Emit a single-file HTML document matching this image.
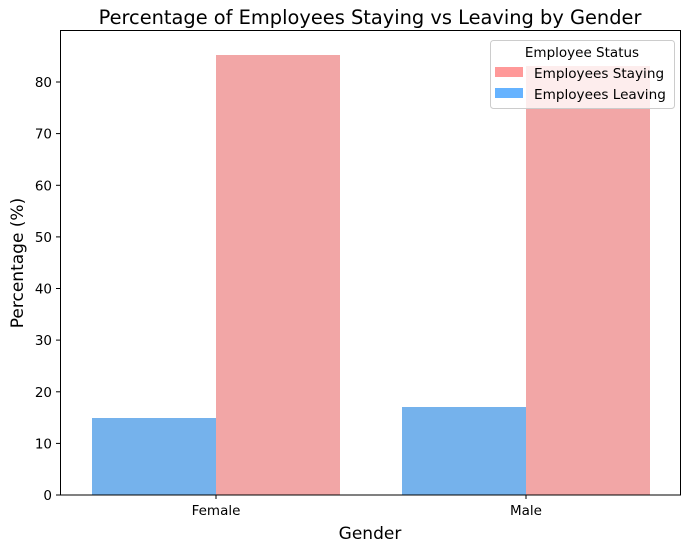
<!DOCTYPE html>
<html><head><style>body{margin:0;background:#fff}</style></head><body>
<svg width="690" height="552" xmlns="http://www.w3.org/2000/svg" font-family="DejaVu Sans, Liberation Sans, sans-serif">
<rect width="690" height="552" fill="#fff"/>
<rect x="92" y="418" width="124" height="77" fill="#75b2ec"/>
<rect x="216" y="55" width="124" height="440" fill="#f2a6a6"/>
<rect x="402" y="407" width="124" height="88" fill="#75b2ec"/>
<rect x="526" y="66" width="124" height="429" fill="#f2a6a6"/>
<rect x="60.5" y="30.5" width="620" height="464.5" fill="none" stroke="#000" stroke-width="1"/>
<g font-size="13.5" text-anchor="end" fill="#000">
<text x="52" y="500">0</text><text x="52" y="448.4">10</text><text x="52" y="396.8">20</text><text x="52" y="345.1">30</text><text x="52" y="293.5">40</text><text x="52" y="241.9">50</text><text x="52" y="190.3">60</text><text x="52" y="138.6">70</text><text x="52" y="87">80</text>
</g>
<g stroke="#000"><line x1="56" x2="60" y1="495" y2="495"/><line x1="56" x2="60" y1="443.4" y2="443.4"/><line x1="56" x2="60" y1="391.8" y2="391.8"/><line x1="56" x2="60" y1="340.1" y2="340.1"/><line x1="56" x2="60" y1="288.5" y2="288.5"/><line x1="56" x2="60" y1="236.9" y2="236.9"/><line x1="56" x2="60" y1="185.3" y2="185.3"/><line x1="56" x2="60" y1="133.6" y2="133.6"/><line x1="56" x2="60" y1="82" y2="82"/>
<line x1="216" x2="216" y1="495" y2="499"/><line x1="526" x2="526" y1="495" y2="499"/></g>
<g font-size="13.5" text-anchor="middle"><text x="216" y="515">Female</text><text x="526" y="515">Male</text></g>
<text x="370" y="539" font-size="17" text-anchor="middle">Gender</text>
<text transform="translate(23,263) rotate(-90)" font-size="17" text-anchor="middle">Percentage (%)</text>
<text x="370" y="24" font-size="19.4" text-anchor="middle">Percentage of Employees Staying vs Leaving by Gender</text>
<rect x="490.5" y="40.5" width="184" height="68" rx="3" fill="#fff" fill-opacity="0.8" stroke="#ccc"/>
<text x="582" y="57" font-size="13.5" text-anchor="middle">Employee Status</text>
<rect x="495" y="67" width="28" height="10" fill="#ff9999"/>
<rect x="495" y="88" width="28" height="10" fill="#66b3ff"/>
<text x="534" y="78" font-size="13.6">Employees Staying</text>
<text x="534" y="99" font-size="13.6">Employees Leaving</text>
</svg>
</body></html>
